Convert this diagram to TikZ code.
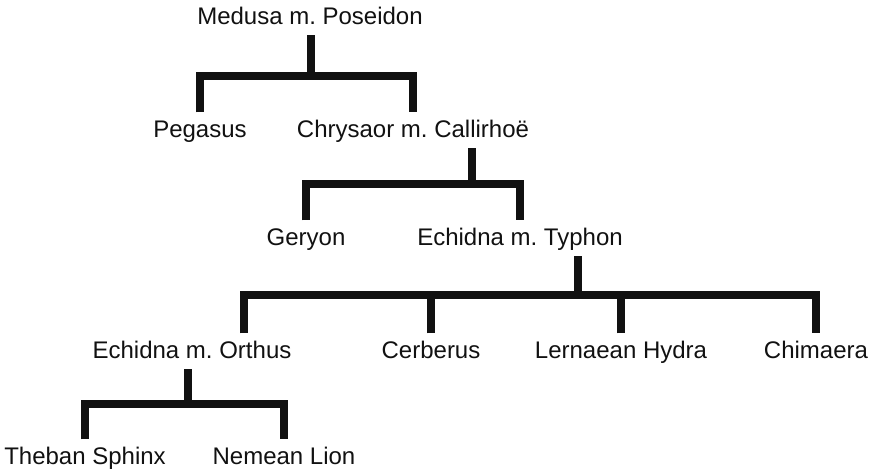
\documentclass[tikz,border=0pt]{standalone}
\usepackage{fontspec}
\setmainfont{Liberation Sans}
\usetikzlibrary{calc}
\definecolor{inkBlack}{RGB}{17, 17, 17}
\frenchspacing

\begin{document}
\begin{tikzpicture}[x=0.5pt, y=-0.5pt,
    person/.style={anchor=base, inner xsep=0pt, inner ysep=3.5pt, text height=8.6pt, text depth=2pt,
      font=\fontsize{12pt}{14pt}\selectfont, text=inkBlack},
    famline/.style={draw=inkBlack, line width=4.2pt, line join=miter}]
  \useasboundingbox (0,0) rectangle (877,472);

  \node (medusa) [person] at (310,24) {Medusa m. Poseidon};

  \node (pegasus) [person] at (200,137) {Pegasus};
  \node (chrysaor) [person] at (413,137) {Chrysaor m. Callirhoë};

  \node (geryon) [person] at (306,245) {Geryon};
  \node (typhon) [person] at (520,245) {Echidna m. Typhon};

  \node (orthus) [person] at (192,358) {Echidna m. Orthus};
  \node (cerberus) [person] at (431,358) {Cerberus};
  \node (hydra) [person] at (621,358) {Lernaean Hydra};
  \node (chimaera) [person] at (816,358) {Chimaera};

  \node (sphinx) [person] at (85,464) {Theban Sphinx};
  \node (lion) [person] at (284,464) {Nemean Lion};

  \coordinate (medusaBar) at (311,76);
  \coordinate (chrysaorBar) at (472,184);
  \coordinate (typhonBar) at (578,295);
  \coordinate (orthusBar) at (188,404);

  \draw[famline] (medusa.south -| medusaBar) -- (medusaBar);
  \draw[famline] (pegasus.north) |- (medusaBar) -| (chrysaor.north);

  \draw[famline] (chrysaor.south -| chrysaorBar) -- (chrysaorBar);
  \draw[famline] (geryon.north) |- (chrysaorBar) -| (typhon.north);

  \draw[famline] (typhon.south -| typhonBar) -- (typhonBar);
  \draw[famline] ([xshift=26pt]orthus.north) |- (typhonBar) -| (chimaera.north);
  \draw[famline] (cerberus.north) -- (cerberus.north |- typhonBar);
  \draw[famline] (hydra.north) -- (hydra.north |- typhonBar);

  \draw[famline] (orthus.south -| orthusBar) -- (orthusBar);
  \draw[famline] (sphinx.north) |- (orthusBar) -| (lion.north);
\end{tikzpicture}
\end{document}
